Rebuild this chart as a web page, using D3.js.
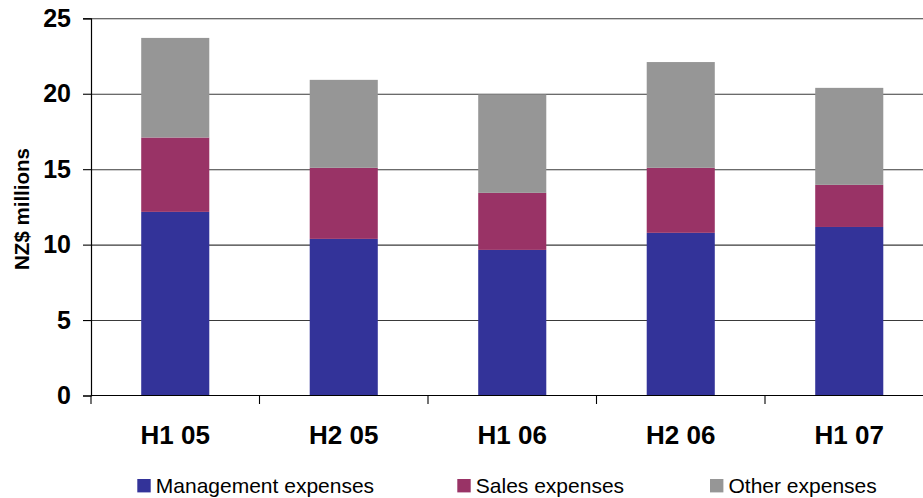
<!DOCTYPE html>
<html>
<head>
<meta charset="utf-8">
<script src="https://cdn.jsdelivr.net/npm/d3@7"></script>
<style>
  html, body { margin: 0; padding: 0; background: #fff; }
  svg { display: block; font-family: "Liberation Sans", Arial, sans-serif; }
</style>
</head>
<body>
<svg id="chart" width="923" height="498"></svg>
<script>
// Half-year expense breakdown (NZ$ millions)
const categories = ["H1 05", "H2 05", "H1 06", "H2 06", "H1 07"];
const seriesNames = ["Management expenses", "Sales expenses", "Other expenses"];
const management = [12.17, 10.38, 9.65, 10.78, 11.17];
const sales      = [4.93, 4.71, 3.78, 4.31, 2.79];
const other      = [6.60, 5.83, 6.52, 7.01, 6.43];
const yTicks = [0, 5, 10, 15, 20, 25];
const colors = ["#333399", "#993366", "#969696"];

const svg = d3.select("#chart");
const W = 923;
const plotLeft = 91, plotTop = 18.3, plotBottom = 395.5, plotRight = 933.5;

const x = d3.scaleBand().domain(categories).range([plotLeft, plotRight])
  .paddingInner(0.596).paddingOuter(0.298);
const y = d3.scaleLinear().domain([0, 25]).range([plotBottom, plotTop]);

// Table for stacking
const table = categories.map((c, i) => ({
  cat: c,
  "Management expenses": management[i],
  "Sales expenses": sales[i],
  "Other expenses": other[i]
}));
const stacked = d3.stack().keys(seriesNames)(table);

// Gridlines
svg.append("g")
  .attr("transform", `translate(${plotLeft},0)`)
  .call(d3.axisLeft(y).tickValues(yTicks.filter(t => t > 0)).tickSize(-(W - plotLeft)).tickFormat(""))
  .call(g => g.select(".domain").remove())
  .call(g => g.selectAll("line").attr("stroke", "#3a3a3a").attr("stroke-width", 1.1));

// Bars
svg.append("g").selectAll("g")
  .data(stacked)
  .join("g")
  .attr("fill", (d, i) => colors[i])
  .selectAll("rect")
  .data(d => d)
  .join("rect")
  .attr("x", d => x(d.data.cat))
  .attr("width", x.bandwidth())
  .attr("y", d => y(d[1]))
  .attr("height", d => y(d[0]) - y(d[1]));

// Y axis
const yAxis = svg.append("g")
  .attr("transform", `translate(${plotLeft},0)`)
  .call(d3.axisLeft(y).tickValues(yTicks).tickSize(8).tickPadding(12));
yAxis.select(".domain").attr("stroke", "#000").attr("stroke-width", 1.2);
yAxis.selectAll("line").attr("stroke", "#000").attr("stroke-width", 1.1);
yAxis.selectAll("text")
  .attr("font-size", 25).attr("font-weight", "bold").attr("fill", "#000")
  .attr("font-family", "'Liberation Sans', Arial, sans-serif");

// X axis baseline and category boundary ticks
const gap = x.step() - x.bandwidth();
const boundaries = categories.map(c => x(c) - gap / 2);
svg.append("line")
  .attr("x1", plotLeft).attr("x2", W)
  .attr("y1", y(0)).attr("y2", y(0))
  .attr("stroke", "#000").attr("stroke-width", 1.2);
svg.append("g").selectAll("line")
  .data(boundaries)
  .join("line")
  .attr("x1", d => d).attr("x2", d => d)
  .attr("y1", y(0)).attr("y2", y(0) + 8.5)
  .attr("stroke", "#000").attr("stroke-width", 1.1);

// X axis labels
const xAxis = svg.append("g")
  .attr("transform", `translate(0,${plotBottom})`)
  .call(d3.axisBottom(x).tickSize(0).tickPadding(30));
xAxis.select(".domain").remove();
xAxis.selectAll("text")
  .attr("font-size", 26).attr("font-weight", "bold").attr("fill", "#000")
  .attr("font-family", "'Liberation Sans', Arial, sans-serif");

// Y axis title
svg.append("text")
  .attr("transform", "translate(29,209) rotate(-90)")
  .attr("text-anchor", "middle")
  .attr("font-size", 20.5).attr("font-weight", "bold")
  .text("NZ$ millions");

// Legend
const legendX = [137.3, 457.3, 710];
const legend = svg.append("g").selectAll("g")
  .data(seriesNames)
  .join("g")
  .attr("transform", (d, i) => `translate(${legendX[i]},479)`);
legend.append("rect")
  .attr("width", 13.4).attr("height", 13.4)
  .attr("fill", (d, i) => colors[i]);
legend.append("text")
  .attr("x", 18.5).attr("y", 13.7)
  .attr("font-size", 21)
  .attr("fill", "#000")
  .text(d => d);
</script>
</body>
</html>
